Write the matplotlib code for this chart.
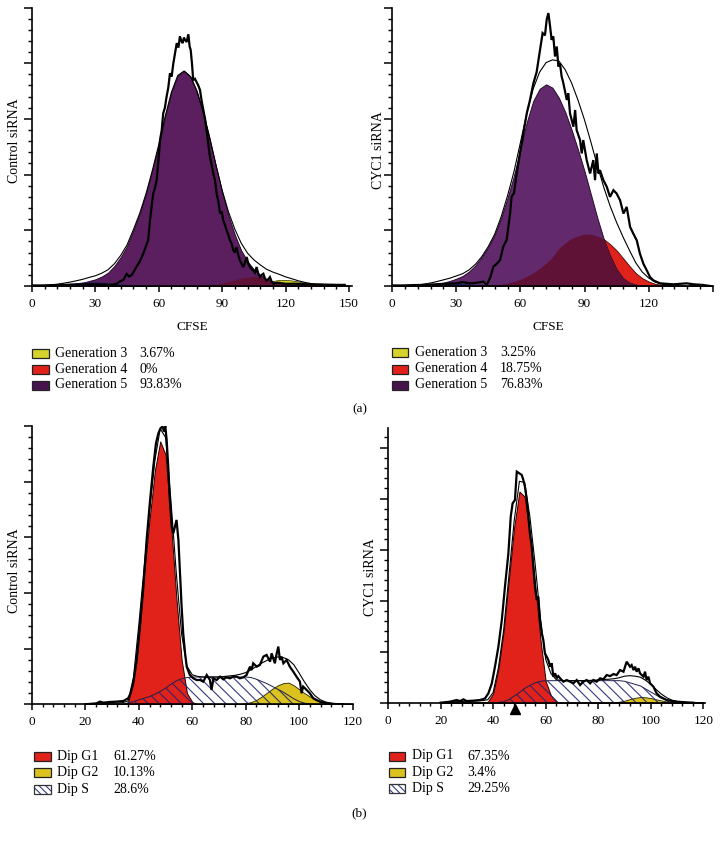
import numpy as np
import matplotlib
matplotlib.use('Agg')
import matplotlib.pyplot as plt
from matplotlib.patches import Rectangle
from matplotlib.ticker import MultipleLocator

plt.rcParams['font.family'] = ['Liberation Serif', 'DejaVu Serif']
plt.rcParams['hatch.linewidth'] = 0.8

# ---------------- data: CFSE panels (a) ----------------
x_top = np.arange(0, 151, 3)   # 0..150 step 3

purple_tl = [0, 0, 0.2, 0.4, 0.6, 1, 1.5, 2.2, 3, 4.5,
             6, 8.5, 12, 18, 26, 36, 50, 65, 83, 104,
             127, 152, 174, 189, 193, 188, 175, 156, 133, 108,
             84, 63, 46, 32, 22, 15, 10, 6, 4, 2.5,
             1.5, 1, 0.5, 0.3, 0.2, 0, 0, 0, 0, 0, 0]
navy_tl = [0, 0, 0.3, 0.6, 1, 1.5, 2, 2.5, 3, 3.2,
           3.2, 3, 2.6, 2, 1.5, 1, 0.6, 0.3, 0.1, 0,
           0, 0, 0, 0, 0, 0, 0, 0, 0, 0,
           0, 0, 0, 0, 0, 0, 0, 0, 0, 0,
           0, 0, 0, 0, 0, 0, 0, 0, 0, 0, 0]
red_tl = [0, 0, 0, 0, 0, 0, 0, 0, 0, 0,
          0, 0, 0, 0, 0, 0, 0, 0, 0, 0,
          0, 0, 0, 0, 0, 0, 0, 0, 0.5, 1,
          2, 3.5, 5, 6.5, 7.5, 8, 7.5, 6, 4, 2.5,
          1.2, 0.5, 0.2, 0, 0, 0, 0, 0, 0, 0, 0]
yellow_tl = [0, 0, 0, 0, 0, 0, 0, 0, 0, 0,
             0, 0, 0, 0, 0, 0, 0, 0, 0, 0,
             0, 0, 0, 0, 0, 0, 0, 0, 0, 0,
             0, 0, 0, 0, 0, 0.5, 1.5, 3, 4.5, 5.5,
             5.5, 5, 4, 3, 2, 1.2, 0.6, 0.3, 0.1, 0, 0]

purple_tr = [0, 0, 0.1, 0.2, 0.4, 0.7, 1.2, 2, 3, 4.5,
             6.5, 9, 13, 18.5, 26, 35, 46, 61, 79, 99,
             123, 147, 166, 177, 181, 178, 169, 156, 140, 122,
             103, 82, 61, 42, 27, 15, 7, 3, 1.2, 0.5,
             0.2, 0, 0, 0, 0, 0, 0, 0, 0, 0, 0]
navy_tr = [0, 0, 0, 0, 0.5, 1, 1.5, 2, 2.5, 2.5,
           2.5, 2, 1.5, 1, 0.5, 0.2, 0, 0, 0, 0,
           0, 0, 0, 0, 0, 0, 0, 0, 0, 0,
           0, 0, 0, 0, 0, 0, 0, 0, 0, 0,
           0, 0, 0, 0, 0, 0, 0, 0, 0, 0, 0]
red_tr = [0, 0, 0, 0, 0, 0, 0, 0, 0, 0,
          0, 0, 0, 0, 0, 0.2, 0.5, 1, 2, 3.5,
          5.5, 8, 11, 15, 19.5, 25, 33, 38, 42, 44.5,
          46, 46, 44.5, 42, 37.5, 32, 25, 18, 11.5, 7,
          4, 2, 1, 0.4, 0.2, 0, 0, 0, 0, 0, 0]
yellow_tr = [0, 0, 0, 0, 0, 0, 0, 0, 0, 0,
             0, 0, 0, 0, 0, 0, 0, 0, 0, 0,
             0, 0, 0, 0, 0, 0, 0, 0, 0, 0,
             0, 1, 2.5, 4.5, 7, 10, 12, 11, 8, 5,
             3, 1.5, 0.7, 0.3, 0, 0, 0, 0, 0, 0, 0]

hist_tl_x = [0, 5, 10, 15, 20, 25, 30, 35,
             38, 40, 41.5, 43.2, 44.8, 46, 47.2, 48.5,
             49.5, 51, 52.7, 54, 55, 55.8, 56.6, 57.4,
             58.2, 59, 59.8, 60.6, 61.4, 62.1, 62.9, 63.7,
             64.5, 65.3, 66.1, 66.9, 67.7, 68.5, 69.3, 70,
             70.7, 71.3, 71.9, 72.4, 73.2, 74, 74.6, 75.1,
             75.7, 76.3, 77.1, 77.9, 78.7, 79.5, 80.3, 81.1,
             81.9, 82.6, 83.4, 84.2, 85, 85.8, 86.6, 87.4,
             88.2, 89, 89.8, 90.5, 91.3, 92.1, 92.9, 93.7,
             94.5, 95.3, 96, 96.8, 97.6, 98.4, 99.2, 100,
             100.8, 101.6, 102.4, 103.2, 104, 104.7, 105.5, 106.3,
             107.1, 107.9, 108.7, 109.5, 110.2, 111, 111.8, 112.6,
             113.4, 114.2, 116, 118, 120, 125, 130, 135,
             140, 145, 148]
hist_tl_y = [0.5, 0.5, 0.8, 1, 1.2, 1.5, 1.5, 1.2,
             1, 2, 4, 5.4, 10.8, 8.5, 9.9, 14,
             17.4, 22, 29.3, 36, 41.3, 58, 71.2, 83.2,
             88, 95.2, 112, 131, 140, 155, 160, 170,
             178, 191, 188, 200, 209, 218, 214, 224,
             220, 218, 223, 221, 219, 226, 215, 212,
             200, 185, 186, 183, 180, 176, 166, 158,
             150, 140, 128, 116, 109, 101, 95, 83,
             76, 65, 67, 59, 55, 50, 46, 41,
             38, 32, 30, 35, 28, 23, 20, 17,
             21, 26, 20, 17, 15, 14, 12, 17,
             11, 8, 10, 11, 7, 5, 6, 8,
             4, 2, 3, 2.5, 2, 2, 1.5, 1.5,
             1.2, 1, 1]

hist_tr_x = [0, 5, 10, 15, 20, 25, 30, 33,
             36.5, 40, 42.7, 44.3, 46, 47.4, 49, 50.5,
             52, 53.6, 55.2, 55.9, 57, 58.3, 59.8, 61.4,
             63, 64.5, 66.1, 67.6, 69.2, 70.4, 71.5, 72.3,
             73.1, 73.9, 74.6, 75.4, 76.2, 77, 77.8, 78.5,
             79.3, 80.1, 81.7, 82.4, 83.2, 84.8, 85.6, 86.3,
             87.9, 88.7, 89.4, 91, 92.6, 94.1, 94.9, 95.7,
             96.5, 97.2, 98.8, 100.4, 101.9, 103.5, 105, 106.6,
             108.2, 109.7, 111.3, 112.8, 114.4, 115.9, 117.5, 119.1,
             120.6, 122.2, 125.3, 128, 131.5, 135, 137.8, 141,
             145, 148.7]
hist_tr_y = [0.5, 0.5, 0.8, 1, 1.5, 2, 2.5, 3.5,
             2.4, 3, 3.9, 1, 8, 17.4, 20, 23.3,
             35.3, 41.3, 65.2, 80.2, 83.2, 101, 119, 137,
             155, 167, 182, 192, 212, 227, 225, 239,
             245, 233, 221, 224, 206, 215, 197, 200,
             188, 182, 167, 173, 155, 143, 158, 140,
             131, 119, 131, 113, 101, 113, 95, 119,
             101, 104, 95, 89, 80, 86, 83, 77,
             65, 71, 53, 47, 41, 29, 20, 14,
             8, 5, 2.4, 2, 1.5, 2, 2.4, 1.5,
             1, 0]

# ---------------- data: DNA content panels (b) ----------------
x_bot = np.arange(20, 121, 2)   # 20..120 step 2

g1_bl = [0, 0, 0, 0, 0, 0, 0, 0, 2, 22,
         68, 118, 166, 210, 236, 224, 163, 97, 40, 10,
         2, 0, 0, 0, 0, 0, 0, 0, 0, 0,
         0, 0, 0, 0, 0, 0, 0, 0, 0, 0,
         0, 0, 0, 0, 0, 0, 0, 0, 0, 0, 0]
s_bl = [0, 0, 0, 0, 0, 0, 0, 0, 1, 2.5,
        4, 5.5, 7, 9, 11.5, 14.5, 18, 21, 23, 24,
        24.5, 24.5, 24.5, 24.5, 24.5, 24.5, 24.5, 24.5, 24.5, 24.5,
        24.5, 24, 22.5, 20.5, 18.5, 16, 13.5, 11, 8, 5,
        2.5, 1, 0.3, 0, 0, 0, 0, 0, 0, 0, 0]
g2_bl = [0, 0, 0, 0, 0, 0, 0, 0, 0, 0,
         0, 0, 0, 0, 0, 0, 0, 0, 0, 0,
         0, 0, 0, 0, 0, 0, 0, 0, 0, 0.3,
         1, 2, 4, 7, 10.5, 14, 17, 19, 19.5, 17,
         13.5, 10, 7, 4, 2, 1, 0.3, 0, 0, 0, 0]
fit_bl = [0, 0, 0.3, 0.5, 0.7, 1, 1.2, 1.5, 3, 24.5,
          72, 123.5, 173, 219, 247.5, 239.5, 183, 118, 63, 34,
          26.5, 25, 24.5, 24.5, 24.5, 24.5, 25, 25.5, 26, 27,
          28.5, 31, 34, 37, 39.5, 41.5, 42.5, 42, 40, 35.5,
          28, 20, 13, 7.5, 4, 2, 1, 0.5, 0.2, 0, 0]

g1_br = [0, 0, 0, 0, 0, 0, 0, 0, 0, 1,
         9, 33, 70, 121, 172, 207, 202, 165, 116, 62,
         21, 7, 1, 0, 0, 0, 0, 0, 0, 0,
         0, 0, 0, 0, 0, 0, 0, 0, 0, 0,
         0, 0, 0, 0, 0, 0, 0, 0, 0, 0, 0]
s_br = [0, 0, 0, 0, 0, 0, 0, 0, 0, 0,
        0, 0.3, 1, 3, 6.5, 10, 14, 17, 19.5, 21,
        21.5, 21.6, 21.6, 21.6, 21.6, 21.6, 21.6, 21.6, 21.6, 21.6,
        21.6, 21.6, 21.6, 21.6, 21.6, 21, 19.5, 18, 16.5, 13.5,
        10.5, 7.5, 4.5, 2.5, 1, 0.3, 0, 0, 0, 0, 0]
g2_br = [0, 0, 0, 0, 0, 0, 0, 0, 0, 0,
         0, 0, 0, 0, 0, 0, 0, 0, 0, 0,
         0, 0, 0, 0, 0, 0, 0, 0, 0, 0,
         0, 0, 0, 0.3, 1, 2, 3.5, 4.8, 5.5, 5.3,
         4.5, 3.3, 2.2, 1.2, 0.5, 0.2, 0, 0, 0, 0, 0]
fit_br = [0, 0, 0.5, 1, 1.2, 1.5, 1.5, 1.8, 2, 3,
          10, 34, 71, 124, 178, 217, 216, 182, 135.5, 83,
          42.5, 28.5, 22.6, 21.8, 21.6, 21.6, 21.6, 21.6, 21.8, 22,
          22.3, 22.7, 23, 23.5, 24.5, 26, 26.5, 26, 25, 22,
          18, 13, 8.5, 5, 2.5, 1.2, 0.5, 0.2, 0, 0, 0]

hist_bl_x = [20, 24.2, 25.4, 26.7, 29.2, 31.7, 34.2, 36, 36.9, 37.9,
             39.2, 40.4, 41.7, 42.9, 44.2, 45.4, 46.4, 47.3, 48.1, 48.9,
             49.4, 49.9, 50.4, 51, 51.6, 52.3, 52.9, 53.5, 54.1, 54.8,
             55.4, 56, 56.6, 57.3, 57.9, 59.1, 60.4, 61.6, 62.9, 64.1,
             65.4, 66.6, 67.2, 67.9, 69.1, 70.4, 71.6, 72.8, 74.1, 75.3,
             76.6, 77.8, 79.1, 80.3, 81.6, 82.2, 82.8, 84.1, 85.3, 86.6,
             87.8, 89.1, 89.7, 90.3, 90.9, 91.6, 92.2, 92.8, 93.4, 94.1,
             95.3, 96.5, 97.8, 99, 100.3, 100.9, 101.5, 102.8, 104, 105.3,
             106.5, 107.8, 110.3, 112.8, 116.5]
hist_bl_y = [0, 0.9, 2.4, 1.5, 2.1, 2.4, 3, 5.4, 9.9, 18.9,
             39.8, 69.7, 105.6, 147.5, 183.4, 213.3, 234.3, 243.3, 247.8, 249.3,
             244.8, 249.8, 237.3, 213.3, 183.4, 159.5, 153.5, 159.5, 165.5, 147.5,
             117.6, 87.7, 63.7, 45.8, 33.8, 26.3, 23.3, 21.8, 21.8, 20.3,
             26.3, 21.8, 12.9, 23.3, 21.8, 24.8, 22.4, 24.2, 23.3, 24.8,
             24.8, 23.3, 24.2, 26.3, 33.8, 30.8, 36.8, 33.8, 35.3, 42.8,
             44.3, 38.3, 45.8, 41.3, 36.8, 45.8, 51.8, 39.8, 42.8, 36.8,
             39.8, 33.8, 29.3, 24.8, 20.3, 9.9, 15.9, 12.9, 9.9, 5.4,
             3.9, 2.4, 0.9, 0.3, 0]

hist_br_x = [20, 23.6, 26.1, 27.4, 28.7, 29.9, 32.5, 35, 36.9, 38.2,
             39.5, 40.7, 42, 43.3, 44.5, 45.8, 46.7, 47.4, 48.3, 49,
             50, 50.9, 51.5, 52.1, 52.8, 53.4, 54, 54.7, 55.3, 55.9,
             56.6, 57.2, 57.8, 58.5, 59.1, 59.7, 60.4, 61, 61.7, 62.3,
             62.9, 63.6, 64.2, 64.8, 65.5, 66.7, 68, 69.3, 70.5, 71.8,
             73.1, 74.3, 75.6, 76.9, 78.1, 79.4, 80.7, 81.9, 83.2, 84.5,
             85.8, 87, 88.3, 89.6, 90.8, 92.1, 92.7, 93.4, 94, 94.6,
             95.3, 95.9, 97.2, 97.8, 98.4, 99.1, 99.7, 101, 102.2, 103.5,
             106, 109.9, 113.7, 116.2]
hist_br_y = [0, 1, 2.6, 1.6, 3.3, 1.6, 2, 2.6, 4.2, 9.2,
             19, 35.3, 54.9, 81, 113.7, 146.4, 182.4, 195.4, 198.7, 226.5,
             224.8, 223.2, 218.3, 211.8, 198.7, 182.4, 166, 152.9, 133.3, 113.7,
             100.7, 103.9, 81, 68, 61.4, 48.4, 45.1, 41.8, 35.3, 38.6,
             25.5, 28.8, 23.9, 26.1, 23.9, 20.6, 22.2, 20.6, 19, 22.2,
             17.3, 20.6, 22.2, 19, 22.2, 20.6, 23.9, 22.9, 27.1, 26.1,
             28.1, 27.1, 32, 30.4, 40.2, 35.3, 36.9, 32, 35.3, 30.4,
             33.7, 28.8, 25.5, 30.4, 22.2, 25.5, 19, 15.7, 9.2, 5.9,
             2.6, 1, 0.3, 0]
g1_marker_br = 48.5

legend_a_labels = ['Generation 3', 'Generation 4', 'Generation 5']
legend_a_left = ['3.67%', '0%', '93.83%']
legend_a_right = ['3.25%', '18.75%', '76.83%']
legend_b_labels = ['Dip G1', 'Dip G2', 'Dip S']
legend_b_left = ['61.27%', '10.13%', '28.6%']
legend_b_right = ['67.35%', '3.4%', '29.25%']

# ---------------- colours ----------------
C_PURPLE_L = '#5b1e5f'
C_PURPLE_R = '#62296c'
C_RED = '#e1221a'
C_MAROON = '#601236'
C_YEL_TOP = '#d6d22c'
C_YEL_BOT = '#dcc21e'
C_NAVY = '#1e1e5c'
C_HATCH = (0.12, 0.14, 0.45, 0.9)
C_LEG_PURPLE = '#47134d'

W, H = 722, 841
fig = plt.figure(figsize=(W / 100, H / 100), dpi=100)


def add_ax(left, top, right, bottom):
    return fig.add_axes([left / W, 1 - bottom / H, (right - left) / W, (bottom - top) / H])


def style(ax, xmaj, xlabels, xminor, xlim, ylim):
    for s in ['top', 'right']:
        ax.spines[s].set_visible(False)
    for s in ['left', 'bottom']:
        ax.spines[s].set_linewidth(1.2)
        ax.spines[s].set_zorder(6)
    ax.set_xlim(*xlim)
    ax.set_ylim(*ylim)
    ax.set_xticks(xmaj, xlabels)
    ax.xaxis.set_minor_locator(MultipleLocator(xminor))
    ax.yaxis.set_major_locator(MultipleLocator(50))
    ax.yaxis.set_minor_locator(MultipleLocator(10))
    ax.tick_params(axis='y', labelleft=False)
    ax.tick_params(axis='x', which='major', direction='out', length=4.6, width=1.1,
                   labelsize=9.5, pad=4)
    ax.tick_params(axis='x', which='minor', direction='out', length=2.5, width=1.0)
    ax.tick_params(axis='y', which='major', direction='out', length=6, width=1.1)
    ax.tick_params(axis='y', which='minor', direction='out', length=2.6, width=1.0)
    ax.patch.set_alpha(0)


def draw_cfse(ax, purple, navy, red, yellow, hx, hy, pcol):
    p = np.array(purple); n = np.array(navy); r = np.array(red); y = np.array(yellow)
    ax.fill_between(x_top, y, facecolor=C_YEL_TOP, edgecolor='#333300', lw=0.5, zorder=2)
    ax.fill_between(x_top, r, facecolor=C_RED, edgecolor='#3a0808', lw=0.6, zorder=2.1)
    ax.fill_between(x_top, p, facecolor=pcol, edgecolor='#2a0a2c', lw=0.7, zorder=2.2)
    ax.fill_between(x_top, np.minimum(p, r), facecolor=C_MAROON, lw=0, zorder=2.3)
    ax.fill_between(x_top, n, facecolor=C_NAVY, lw=0, zorder=2.4)
    ax.plot(x_top, p + n + r + y, color='black', lw=0.8, zorder=4)
    ax.plot(hx, hy, color='black', lw=1.6, zorder=5, solid_joinstyle='miter')


def draw_dna(ax, g1, s, g2, fit, hx, hy):
    ax.fill_between(x_bot, g2, facecolor=C_YEL_BOT, edgecolor='#222200', lw=0.6, zorder=2)
    ax.fill_between(x_bot, g1, facecolor=C_RED, edgecolor='#220000', lw=0.7, zorder=2.1)
    ax.fill_between(x_bot, s, facecolor='none', edgecolor=C_HATCH, hatch='\\\\\\', lw=0, zorder=3)
    ax.plot(x_bot, s, color='#20204a', lw=0.7, zorder=3.1)
    ax.plot(x_bot, fit, color='black', lw=0.8, zorder=4)
    ax.plot(hx, hy, color='black', lw=1.6, zorder=5, solid_joinstyle='miter')


# ---- (a) top-left
ax_tl = add_ax(32, 7.5, 352.1, 286)
style(ax_tl, [0, 30, 60, 90, 120, 150], ['0', '30', '60', '90', '120', '150'], 6, (0, 151.5), (0, 250))
draw_cfse(ax_tl, purple_tl, navy_tl, red_tl, yellow_tl, hist_tl_x, hist_tl_y, C_PURPLE_L)

# ---- (a) top-right
ax_tr = add_ax(392, 7.5, 712.9, 286)
style(ax_tr, [0, 30, 60, 90, 120, 150], ['0', '30', '60', '90', '120', ''], 6, (0, 150), (0, 250))
draw_cfse(ax_tr, purple_tr, navy_tr, red_tr, yellow_tr, hist_tr_x, hist_tr_y, C_PURPLE_R)

# ---- (b) bottom-left
ax_bl = add_ax(32, 425.8, 353.4, 704.3)
style(ax_bl, [0, 20, 40, 60, 80, 100, 120], ['0', '20', '40', '60', '80', '100', '120'], 4, (0, 120.3), (0, 250))
draw_dna(ax_bl, g1_bl, s_bl, g2_bl, fit_bl, hist_bl_x, hist_bl_y)

# ---- (b) bottom-right
ax_br = add_ax(388, 428.3, 704.7, 702.7)
style(ax_br, [0, 20, 40, 60, 80, 100, 120], ['0', '20', '40', '60', '80', '100', '120'], 4, (0, 120.5), (0, 269))
draw_dna(ax_br, g1_br, s_br, g2_br, fit_br, hist_br_x, hist_br_y)
ax_br.plot([g1_marker_br], [-5.8], marker='^', markersize=7, color='black', clip_on=False, zorder=10)


def ftext(x, y, s, **kw):
    fig.text(x / W, 1 - y / H, s, **kw)


# axis titles
ftext(15, 141, 'Control siRNA', rotation=90, ha='center', va='center', fontsize=10)
ftext(378, 150, 'CYC1 siRNA', rotation=90, ha='center', va='center', fontsize=10)
ftext(15, 571, 'Control siRNA', rotation=90, ha='center', va='center', fontsize=10)
ftext(371, 577, 'CYC1 siRNA', rotation=90, ha='center', va='center', fontsize=10)
ftext(192, 327, 'CFSE', ha='center', va='center', fontsize=9.5)
ftext(548, 327, 'CFSE', ha='center', va='center', fontsize=9.5)
ftext(360, 409, '(a)', ha='center', va='center', fontsize=9.5)
ftext(359, 813, '(b)', ha='center', va='center', fontsize=9.5)


def swatch(x, yc, color=None, hatch=None, w=16.5, h=9):
    xy = (x / W, 1 - (yc + h / 2) / H)
    if hatch:
        fig.add_artist(Rectangle(xy, w / W, h / H, transform=fig.transFigure,
                                 facecolor='white', edgecolor=C_HATCH, hatch=hatch, lw=0))
        fig.add_artist(Rectangle(xy, w / W, h / H, transform=fig.transFigure,
                                 facecolor='none', edgecolor='#333333', lw=0.9))
    else:
        fig.add_artist(Rectangle(xy, w / W, h / H, transform=fig.transFigure,
                                 facecolor=color, edgecolor='#222222', lw=0.9))


def legend(xs, xt, xv, rows, labels, values, colors, hatches):
    for yc, lab, val, col, ht in zip(rows, labels, values, colors, hatches):
        swatch(xs, yc, col, ht)
        ftext(xt, yc, lab, ha='left', va='center', fontsize=10)
        ftext(xv, yc, val, ha='left', va='center', fontsize=10)


cols_a = [C_YEL_TOP, C_RED, C_LEG_PURPLE]
legend(32, 55, 139, [353.3, 369.3, 385], legend_a_labels, legend_a_left, cols_a, [None] * 3)
legend(392, 415, 500, [352.7, 369, 385], legend_a_labels, legend_a_right, cols_a, [None] * 3)
cols_b = [C_RED, C_YEL_BOT, None]
hat_b = [None, None, '\\\\\\\\\\']
legend(34, 57, 113, [756.7, 772.7, 789.3], legend_b_labels, legend_b_left, cols_b, hat_b)
legend(389, 412, 467, [756, 772.3, 788.7], legend_b_labels, legend_b_right, cols_b, hat_b)

fig.savefig('out.png', dpi=100)
